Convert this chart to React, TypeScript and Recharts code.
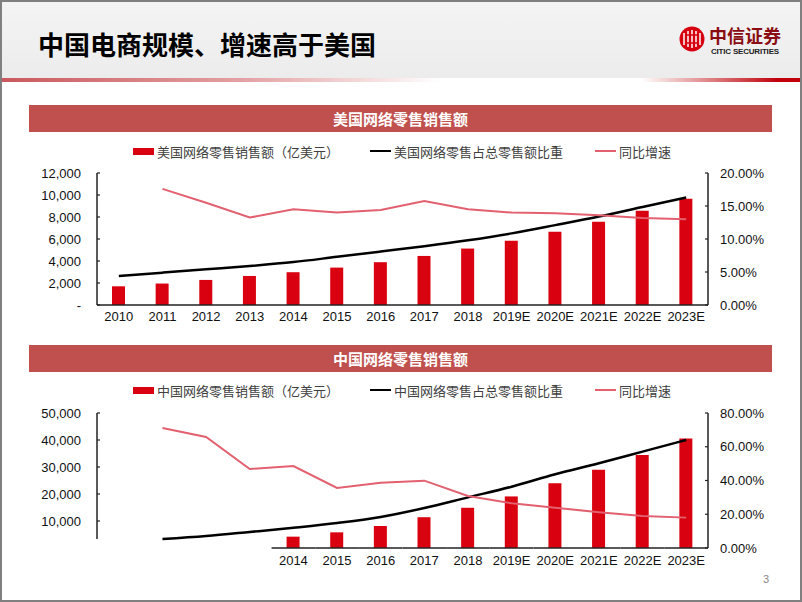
import React from "react";
import { Bar, ComposedChart, Line, XAxis, YAxis } from "recharts";

const years = ["2010", "2011", "2012", "2013", "2014", "2015", "2016", "2017", "2018", "2019E", "2020E", "2021E", "2022E", "2023E"];

// 美国
const usSales = [1700, 1950, 2280, 2640, 2980, 3400, 3890, 4460, 5130, 5830, 6650, 7560, 8560, 9660];
const usShare = [4.4, 4.9, 5.4, 5.9, 6.5, 7.3, 8.1, 8.9, 9.8, 10.85, 12.1, 13.4, 14.85, 16.3];
const usGrowth = [null, 17.6, 15.5, 13.25, 14.5, 14.0, 14.4, 15.75, 14.5, 14.0, 13.9, 13.6, 13.2, 13.0];

// 中国
const cnSales = [null, null, null, null, 4200, 5800, 8150, 11400, 14900, 19100, 24000, 29000, 34400, 40600];
const cnShare = [null, 5.3, 7.1, 9.5, 12.0, 14.8, 18.4, 23.7, 30.0, 36.3, 43.7, 50.2, 57.1, 64.0];
const cnGrowth = [null, 71.1, 65.8, 46.8, 48.6, 35.6, 38.7, 39.9, 30.8, 26.5, 23.9, 21.2, 19.0, 18.0];

const usLeftTicks = [0, 2000, 4000, 6000, 8000, 10000, 12000];
const usRightTicks = [0, 5, 10, 15, 20];
const cnLeftTicks = [10000, 20000, 30000, 40000, 50000];
const cnRightTicks = [0, 20, 40, 60, 80];

const usData = years.map((y, i) => ({ year: y, sales: usSales[i], share: usShare[i], growth: usGrowth[i] }));
const cnData = years.map((y, i) => ({ year: y, sales: cnSales[i], share: cnShare[i], growth: cnGrowth[i] }));

const RED = "#D9000F";
const PINK = "#E2606F";
const BAND = "#C0504D";
const NUM_FONT = "'Liberation Sans', Arial, sans-serif";
const CJK_FONT = "'Noto Sans CJK SC', 'Noto Sans', sans-serif";

const AX_L = 97;
const AX_R = 708;
const PLOT_W = AX_R - AX_L;
const CHART_H = 170;
const TM_L = 16;
const TM_R = 12;
const fmtNum = (v: number) => (v === 0 ? "-" : v.toLocaleString("en-US"));
const fmtPct = (v: number) => v.toFixed(2) + "%";

const LeftTick = (props: any) => {
  const { x, y, payload, stem } = props;
  return (
    <g>
      <line x1={x + TM_L} x2={x + TM_L + 3} y1={y} y2={y} stroke="#222" strokeWidth={1.2} />
      {stem ? <line x1={x + TM_L} x2={x + TM_L} y1={y} y2={y + stem(payload.value)} stroke="#222" strokeWidth={1.5} /> : null}
      <text x={x} y={y} dy="0.355em" textAnchor="end" fontFamily={NUM_FONT} fontSize={13} fill="#111">
        {fmtNum(payload.value)}
      </text>
    </g>
  );
};

const RightTick = (props: any) => {
  const { x, y, payload } = props;
  return (
    <g>
      <line x1={x - TM_R} x2={x - TM_R - 3} y1={y} y2={y} stroke="#222" strokeWidth={1.2} />
      <text x={x} y={y} dy="0.355em" textAnchor="start" fontFamily={NUM_FONT} fontSize={13} fill="#111">
        {fmtPct(payload.value)}
      </text>
    </g>
  );
};

const XTick = (props: any) => {
  const { x, y, payload, margin, show, baseline } = props;
  if (show && !show(payload.value)) return null;
  const band = PLOT_W / years.length;
  return (
    <g>
      {baseline ? <line x1={x - band / 2} x2={x + band / 2} y1={y - margin} y2={y - margin} stroke="#222" strokeWidth={1.5} /> : null}
      <text x={x} y={y} dy="0.71em" textAnchor="middle" fontFamily={NUM_FONT} fontSize={13} fill="#111">
        {payload.value}
      </text>
    </g>
  );
};

const legendItems = (barName: string, shareName: string) => [
  { name: barName, kind: "bar", color: RED, left: 133 },
  { name: shareName, kind: "line", color: "#000", left: 370 },
  { name: "同比增速", kind: "line", color: PINK, left: 595 },
];

const LegendRow = ({ top, items }: { top: number; items: any[] }) => (
  <>
    {items.map((it) => (
      <div
        key={it.name}
        style={{ position: "absolute", left: it.left, top: top - 10, height: 20, display: "flex", alignItems: "center", whiteSpace: "nowrap" }}
      >
        <div style={{ width: 21, height: it.kind === "bar" ? 7 : 2.5, background: it.color, marginRight: 3 }} />
        <span style={{ fontFamily: CJK_FONT, fontSize: 13, color: "#404040" }}>{it.name}</span>
      </div>
    ))}
  </>
);

const SectionBar = ({ top, title }: { top: number; title: string }) => (
  <div
    style={{
      position: "absolute", left: 29, top, width: 743, height: 27, background: BAND,
      color: "#fff", fontFamily: CJK_FONT, fontWeight: 700, fontSize: 15,
      display: "flex", alignItems: "center", justifyContent: "center",
    }}
  >
    {title}
  </div>
);

const cnStemStep = (135 * 10000) / 50000;

export default function App() {
  return (
    <div style={{ position: "absolute", left: 0, top: 0, width: 802, height: 602, background: "#fff", overflow: "hidden" }}>
      <div style={{ position: "absolute", left: 0, top: 0, width: 802, height: 78, background: "linear-gradient(#f4f4f4, #ececec)" }} />
      <div
        style={{
          position: "absolute", left: 0, top: 78, width: 802, height: 4,
          background: "linear-gradient(90deg, #c9585c 0%, #e3a0a2 30%, #ffffff 55%, #ffffff 80%, #e08a8c 88%, #c0000b 97%)",
        }}
      />
      <div style={{ position: "absolute", left: 38, top: 25, fontFamily: CJK_FONT, fontWeight: 700, fontSize: 26, color: "#000", whiteSpace: "nowrap" }}>
        中国电商规模、增速高于美国
      </div>
      <svg style={{ position: "absolute", left: 678, top: 25 }} width={30} height={30}>
        <circle cx={14} cy={14} r={12.5} fill="#D7000F" />
        <path d="M6 8 v12 M10 6 v16 M14 5 v18 M18 6 v16 M22 8 v12" stroke="#fff" strokeWidth={1.5} fill="none" />
        <path d="M7 10 h14 M7 18 h14" stroke="#D7000F" strokeWidth={1.5} />
      </svg>
      <div style={{ position: "absolute", left: 709, top: 25, fontFamily: CJK_FONT, fontWeight: 700, fontSize: 18, color: "#8a0d12", whiteSpace: "nowrap", lineHeight: "20px" }}>
        中信证券
      </div>
      <div style={{ position: "absolute", left: 711, top: 47, fontFamily: NUM_FONT, fontWeight: 700, fontSize: 8, color: "#222", whiteSpace: "nowrap", letterSpacing: -0.2 }}>
        CITIC SECURITIES
      </div>

      <SectionBar top={105} title="美国网络零售销售额" />
      <LegendRow top={151} items={legendItems("美国网络零售销售额（亿美元）", "美国网络零售占总零售额比重")} />
      <div style={{ position: "absolute", left: 0, top: 160 }}>
        <ComposedChart width={802} height={CHART_H} data={usData} margin={{ top: 13, right: 0, bottom: 0, left: 0 }}>
          <XAxis
            dataKey="year" interval={0} height={25} tickLine={false} tickSize={0} tickMargin={7}
            axisLine={{ stroke: "#222", strokeWidth: 1.5 }}
            tick={(p: any) => <XTick {...p} margin={7} />}
          />
          <YAxis
            yAxisId="left" orientation="left" width={97} domain={[0, 12000]} ticks={usLeftTicks} interval={0}
            tickLine={false} tickSize={0} tickMargin={TM_L} axisLine={{ stroke: "#222", strokeWidth: 1.5 }}
            tick={(p: any) => <LeftTick {...p} />}
          />
          <YAxis
            yAxisId="right" orientation="right" width={94} domain={[0, 20]} ticks={usRightTicks} interval={0}
            tickLine={false} tickSize={0} tickMargin={TM_R} axisLine={{ stroke: "#222", strokeWidth: 1.5 }}
            tick={(p: any) => <RightTick {...p} />}
          />
          <Bar yAxisId="left" dataKey="sales" fill={RED} barSize={13} isAnimationActive={false} />
          <Line yAxisId="right" dataKey="share" type="monotone" stroke="#000" strokeWidth={2.5} dot={false} isAnimationActive={false} />
          <Line yAxisId="right" dataKey="growth" type="linear" stroke={PINK} strokeWidth={2} dot={false} isAnimationActive={false} />
        </ComposedChart>
      </div>

      <SectionBar top={345} title="中国网络零售销售额" />
      <LegendRow top={390} items={legendItems("中国网络零售销售额（亿美元）", "中国网络零售占总零售额比重")} />
      <div style={{ position: "absolute", left: 0, top: 400 }}>
        <ComposedChart width={802} height={CHART_H} data={cnData} margin={{ top: 13, right: 0, bottom: 0, left: 0 }}>
          <XAxis
            dataKey="year" interval={0} height={22} tickLine={false} tickSize={0} tickMargin={8} axisLine={false}
            tick={(p: any) => (
              <XTick {...p} margin={8} baseline show={(v: string) => cnSales[years.indexOf(v)] != null} />
            )}
          />
          <YAxis
            yAxisId="left" orientation="left" width={97} domain={[0, 50000]} ticks={cnLeftTicks} interval={0}
            tickLine={false} tickSize={0} tickMargin={TM_L} axisLine={false}
            tick={(p: any) => <LeftTick {...p} stem={(v: number) => (v === 10000 ? (cnStemStep * 2) / 3 : cnStemStep)} />}
          />
          <YAxis
            yAxisId="right" orientation="right" width={94} domain={[0, 80]} ticks={cnRightTicks} interval={0}
            tickLine={false} tickSize={0} tickMargin={TM_R} axisLine={{ stroke: "#222", strokeWidth: 1.5 }}
            tick={(p: any) => <RightTick {...p} />}
          />
          <Bar yAxisId="left" dataKey="sales" fill={RED} barSize={13} isAnimationActive={false} />
          <Line yAxisId="right" dataKey="share" type="monotone" stroke="#000" strokeWidth={2.5} dot={false} isAnimationActive={false} />
          <Line yAxisId="right" dataKey="growth" type="linear" stroke={PINK} strokeWidth={2} dot={false} isAnimationActive={false} />
        </ComposedChart>
      </div>

      <div style={{ position: "absolute", left: 763, top: 573, fontFamily: NUM_FONT, fontSize: 11, color: "#888" }}>3</div>
      <div style={{ position: "absolute", left: 0, top: 0, width: 802, height: 602, boxSizing: "border-box", border: "2px solid #808080", pointerEvents: "none" }} />
    </div>
  );
}
